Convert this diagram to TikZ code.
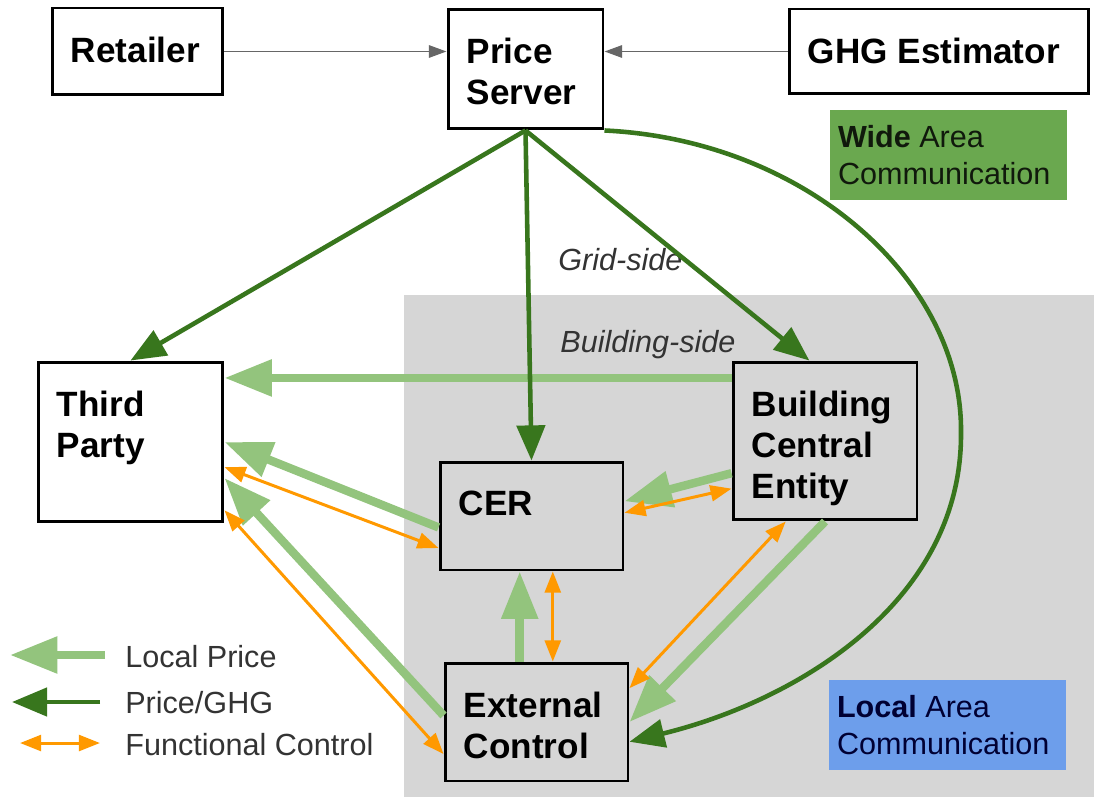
\documentclass[tikz,border=0pt]{standalone}
\usepackage{fontspec}
\setmainfont{Liberation Sans}
\usetikzlibrary{arrows.meta}

\definecolor{darkgreen}{HTML}{38761D}
\definecolor{lightgreen}{HTML}{93C47D}
\definecolor{fcorange}{HTML}{FF9900}
\definecolor{widegreen}{HTML}{6AA84F}
\definecolor{localblue}{HTML}{6D9EEB}
\definecolor{bldggray}{HTML}{D6D6D6}

\tikzset{
  box/.style={draw, line width=1.7pt, inner sep=0pt},
  boxtext/.style={anchor=north west, inner sep=0pt, xshift=0.4cm, yshift=-0.6cm,
    align=left, font=\bfseries\fontsize{20}{23.3}\selectfont},
  areatext/.style={anchor=north west, inner sep=0pt, xshift=0.16cm, yshift=-0.3cm,
    align=left, font=\fontsize{17.4}{21}\selectfont},
  small/.style={font=\fontsize{17.4}{21}\selectfont, inner sep=0pt, text=black!80},
  localprice/.style={lightgreen, line width=4.8pt, -{Triangle[length=27pt,width=20pt]}},
  priceghg/.style={darkgreen, line width=2.6pt, -{Triangle[length=20pt,width=16pt]}},
  funcctrl/.style={fcorange, line width=1.7pt,
    {Triangle[length=12pt,width=9pt]}-{Triangle[length=12pt,width=9pt]}},
  feed/.style={black!60, line width=1.1pt, -{Triangle[length=10pt,width=7pt]}}
}

\begin{document}
\begin{tikzpicture}[x=0.02cm, y=-0.02cm]
  \useasboundingbox (0,0) rectangle (1094,797);
  \fill[white] (0,0) rectangle (1094,797);
  \fill[bldggray] (404,295) rectangle (1094,797);

  % grid side
  \node[box, fill=white, minimum width=3.42cm, minimum height=1.74cm,
    label={[boxtext]north west:Retailer}] (ret) at (137.5,51.5) {};
  \node[box, fill=white, minimum width=3.10cm, minimum height=2.40cm,
    label={[boxtext]north west:Price\\Server}] (ps) at (525.5,69) {};
  \node[box, fill=white, minimum width=6.00cm, minimum height=1.70cm,
    label={[boxtext]north west:GHG Estimator}] (ghg) at (939,51.5) {};
  \node[box, fill=white, minimum width=3.70cm, minimum height=3.20cm,
    label={[boxtext]north west:Third\\Party}] (tp) at (130.5,442) {};
  \node[fill=widegreen, minimum width=4.74cm, minimum height=1.80cm,
    label={[areatext, text=black!85!widegreen]north west:{\bfseries Wide} Area\\Communication}] (wide) at (948.5,155) {};

  % building side
  \node[box, minimum width=3.66cm, minimum height=2.16cm,
    label={[boxtext]north west:CER}] (cer) at (531.5,516) {};
  \node[box, minimum width=3.68cm, minimum height=3.16cm,
    label={[boxtext]north west:Building\\Central\\Entity}] (bce) at (825,441) {};
  \node[box, minimum width=3.66cm, minimum height=2.36cm,
    label={[boxtext]north west:External\\Control}] (ext) at (536.5,722) {};
  \node[fill=localblue, minimum width=4.74cm, minimum height=1.80cm,
    label={[areatext, text=black!80!blue]north west:{\bfseries Local} Area\\Communication}] (local) at (947.5,725) {};

  \node[small, anchor=base west, font=\itshape\fontsize{17.4}{21}\selectfont] (grid) at (558,270) {Grid-side};
  \node[small, anchor=base west, font=\itshape\fontsize{17.4}{21}\selectfont] (bldg) at (560,352) {Building-side};

  % inputs to the price server
  \draw[feed] (ret.east) -- (ret.east -| ps.west);
  \draw[feed] (ghg.west) -- (ghg.west -| ps.east);

  % local price
  \draw[localprice] (bce.146) -- (bce.146 -| tp.east);
  \draw[localprice] (cer.187) -- (tp.east);
  \draw[localprice] (ext.176) -- (tp.-21);
  \draw[localprice] (bce.199) -- (cer.9);
  \draw[localprice] (ext.north -| cer.258) -- (cer.258);
  \draw[localprice] (bce.south) -- (ext.east);

  % functional control
  \draw[funcctrl] (tp.-15) -- (cer.199);
  \draw[funcctrl] (tp.-36) -- (ext.199);
  \draw[funcctrl] (cer.2) -- (bce.207);
  \draw[funcctrl] (cer.-69) -- (ext.north -| cer.-69);
  \draw[funcctrl] (bce.244) -- (ext.20);

  % price / ghg
  \draw[priceghg] (ps.south) -- (tp.north);
  \draw[priceghg] (ps.south) -- (cer.north);
  \draw[priceghg] (ps.south) -- (bce.101);
  \draw[priceghg] (ps.south east) .. controls (805,140) and (963,280) .. (961,433)
    .. controls (962,600) and (800,700) .. (ext.-12);

  % legend
  \coordinate (lp1) at (105,655);
  \coordinate (lp0) at (10,655);
  \coordinate (pg1) at (100,702);
  \coordinate (pg0) at (12,702);
  \coordinate (fc0) at (20,743);
  \coordinate (fc1) at (100,743);
  \draw[localprice] (lp1) -- (lp0);
  \draw[priceghg] (pg1) -- (pg0);
  \draw[funcctrl] (fc0) -- (fc1);
  \node[small, anchor=base west] (lpt) at (125,667) {Local Price};
  \node[small, anchor=base west] (pgt) at (125,713) {Price/GHG};
  \node[small, anchor=base west] (fct) at (125,755) {Functional Control};
\end{tikzpicture}
\end{document}
